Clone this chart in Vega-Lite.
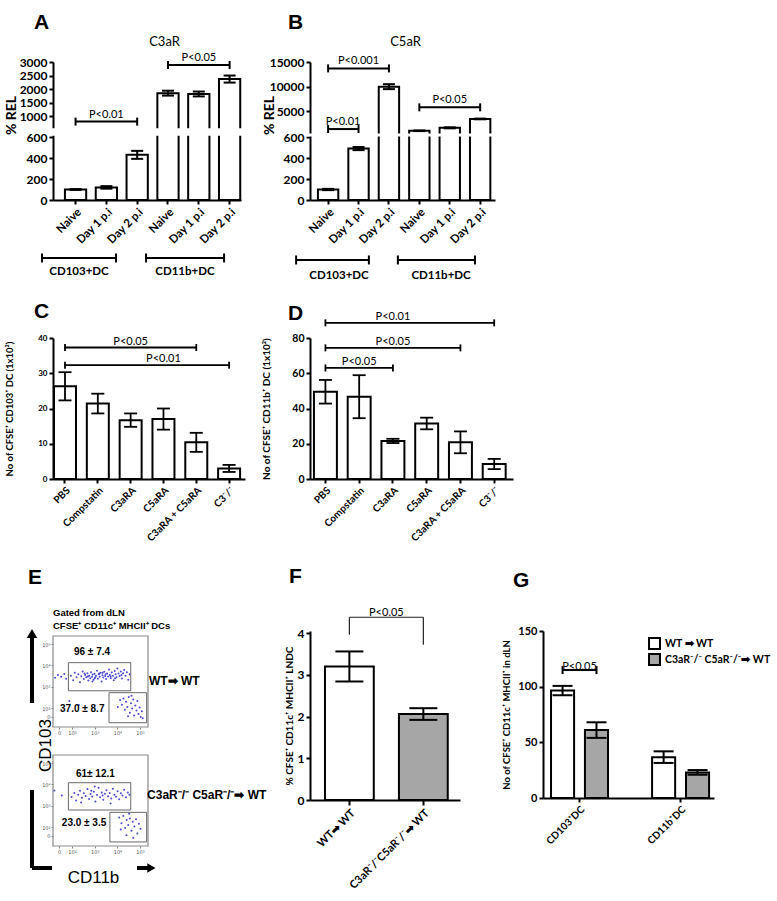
{
"$schema":"https://vega.github.io/schema/vega-lite/v6.json",
"background":"white",
"padding":{"left":3,"top":12,"right":2,"bottom":2},
"config":{
 "font":"Lato",
 "view":{"stroke":null},
 "axis":{"grid":false,"domainColor":"black","domainWidth":2,"tickColor":"black","tickWidth":2,"tickSize":4,"labelColor":"black","labelFont":"Lato","labelFontWeight":"bold","titleColor":"black","titleFont":"Lato","titleFontWeight":"bold"},
 "title":{"font":"Liberation Sans","fontSize":21,"fontWeight":"bold","anchor":"start","frame":"group","color":"black","baseline":"alphabetic"},
 "tick":{"opacity":1},
 "legend":{"labelColor":"black"}
},
"resolve":{"scale":{"fill":"independent"},"legend":{"fill":"independent"}},
"datasets":{
 "relA":[{"id":"Naive|1","v":100,"lo":96,"hi":104},{"id":"Day 1 p.i|1","v":120,"lo":108,"hi":132},{"id":"Day 2 p.i|1","v":430,"lo":392,"hi":468},{"id":"Naive|2","v":1850,"lo":1760,"hi":1940},{"id":"Day 1 p.i|2","v":1820,"lo":1730,"hi":1910},{"id":"Day 2 p.i|2","v":2370,"lo":2240,"hi":2500}],
 "sigA":[{"x1":"Naive|1","x2":"Day 2 p.i|1","tx":"Day 1 p.i|1","y":800,"p":"P<0.01"},{"x1":"Naive|2","x2":"Day 2 p.i|2","tx":"Day 1 p.i|2","y":2890,"p":"P<0.05"}],
 "grpA":[{"g":"CD103+DC","s":-0.35,"e":2.01,"m":0.83,"y":-552},{"g":"CD11b+DC","s":2.97,"e":5.46,"m":4.21,"y":-552}],
 "brk":[{"x1":-0.12,"x2":6.1,"lo":600.12,"hi":600.88}],
 "relB":[{"id":"Naive|1","v":100,"lo":94,"hi":106},{"id":"Day 1 p.i|1","v":490,"lo":475,"hi":505},{"id":"Day 2 p.i|1","v":10000,"lo":9500,"hi":10500},{"id":"Naive|2","v":1050,"lo":990,"hi":1110},{"id":"Day 1 p.i|2","v":1650,"lo":1550,"hi":1750},{"id":"Day 2 p.i|2","v":3450,"lo":3380,"hi":3520}],
 "sigB":[{"x1":"Naive|1","x2":"Day 2 p.i|1","tx":"Day 1 p.i|1","y":13700,"p":"P<0.001"},{"x1":"Naive|2","x2":"Day 2 p.i|2","tx":"Day 1 p.i|2","y":5800,"p":"P<0.05"}],
 "sigB2":[{"x1":"Naive|1","x2":"Day 1 p.i|1","tx":"Naive|1","y":1400,"p":"P<0.01"}],
 "grpB":[{"g":"CD103+DC","s":-0.45,"e":1.91,"m":0.94,"y":-571},{"g":"CD11b+DC","s":2.85,"e":5.35,"m":4.25,"y":-571}],
 "relC":[{"id":"PBS","v":26.3,"lo":22.3,"hi":30.3},{"id":"Compstatin","v":21.4,"lo":18.6,"hi":24.2},{"id":"C3aRA","v":16.7,"lo":14.8,"hi":18.6},{"id":"C5aRA","v":17,"lo":14,"hi":20},{"id":"C3aRA + C5aRA","v":10.4,"lo":7.7,"hi":13.1},{"id":"C3⁻/⁻","v":3,"lo":2,"hi":4}],
 "sigC":[{"x1":"PBS","x2":"C3aRA + C5aRA","tx":"C3aRA","y":37.3,"p":"P<0.05"},{"x1":"PBS","x2":"C3⁻/⁻","tx":"C5aRA","y":32.3,"p":"P<0.01"}],
 "relD":[{"id":"PBS","v":49.5,"lo":42.8,"hi":56.2},{"id":"Compstatin","v":46.7,"lo":34.5,"hi":58.9},{"id":"C3aRA","v":21.6,"lo":20.4,"hi":22.8},{"id":"C5aRA","v":31.5,"lo":28.2,"hi":34.8},{"id":"C3aRA + C5aRA","v":20.8,"lo":14.6,"hi":27},{"id":"C3⁻/⁻","v":8.5,"lo":5.6,"hi":11.4}],
 "sigD":[{"x1":"PBS","x2":"C3⁻/⁻","tx":"C3aRA","y":88.6,"p":"P<0.01"},{"x1":"PBS","x2":"C3aRA + C5aRA","tx":"C3aRA","y":74.4,"p":"P<0.05"},{"x1":"PBS","x2":"C3aRA","tx":"Compstatin","y":63,"p":"P<0.05"}],
 "relF":[{"id":"WT","v":3.2,"lo":2.84,"hi":3.56},{"id":"KO","v":2.06,"lo":1.92,"hi":2.2}],
 "legF":[{"id":"WT","top":4.38,"bot":3.96},{"id":"KO","top":4.38,"bot":3.72}],
 "sigF":[{"x1":"WT","x2":"KO","y":4.38,"p":"P<0.05"}],
 "relG":[{"grp":"CD103⁺DC","geno":"WT","v":96.5,"lo":92.3,"hi":100.7},{"grp":"CD103⁺DC","geno":"KO","v":61,"lo":54,"hi":68},{"grp":"CD11b⁺DC","geno":"WT","v":36.7,"lo":31.5,"hi":41.9},{"grp":"CD11b⁺DC","geno":"KO","v":23,"lo":20.9,"hi":25.1}],
 "sigG":[{"grp":"CD103⁺DC","y":114.9,"p":"P<0.05"}],
 "capG":[{"grp":"CD103⁺DC","geno":"WT","y":114.9},{"grp":"CD103⁺DC","geno":"KO","y":114.9}],
 "frameE":[{"x1":1.16,"x2":5.35,"y1":1.11,"y2":5.38}],
 "gates":[{"p":"t","x1":1.84,"x2":4.59,"y1":2.81,"y2":4.13},{"p":"t","x1":3.63,"x2":5.29,"y1":1.31,"y2":2.72},{"p":"b","x1":1.84,"x2":4.59,"y1":2.8,"y2":4.08},{"p":"b","x1":3.67,"x2":5.29,"y1":1.3,"y2":2.69}],
 "gtext":[{"p":"t","x":2.88,"y":4.64,"t":"96 ± 7.4"},{"p":"t","x":2.45,"y":1.94,"t":"37.0 ± 8.7"},{"p":"b","x":3.03,"y":4.49,"t":"61± 12.1"},{"p":"b","x":2.53,"y":2.17,"t":"23.0 ± 3.5"}],
 "stext":[{"p":"t","x":5.39,"y":3.26,"t":"WT➡  WT"},{"p":"b","x":5.31,"y":3.5,"t":"C3aR⁻/⁻ C5aR⁻/⁻➡ WT"}],
 "htext":[{"x":1.16,"y":6.45,"t":"Gated from dLN"},{"x":1.16,"y":5.86,"t":"CFSE⁺ CD11c⁺ MHCII⁺ DCs"}],
 "arrE":[{"p":"t","x1":0.234,"x2":0.234,"y1":2.236,"y2":5.3},{"p":"b","x1":0.234,"x2":0.234,"y1":3.74,"y2":0.078},{"p":"b","x1":0.234,"x2":1.116,"y1":0.078,"y2":0.078},{"p":"b","x1":4.865,"x2":5.35,"y1":0.078,"y2":0.078}],
 "headUp":[{"x":0.234,"y":5.5}],
 "headRight":[{"x":5.5,"y":0.078}],
 "facs":[
{"p":"t","x":1.25,"y":3.42},{"p":"t","x":1.38,"y":3.55},{"p":"t","x":1.52,"y":3.47},{"p":"t","x":1.66,"y":3.6},{"p":"t","x":1.74,"y":3.38},{"p":"t","x":1.95,"y":3.52},{"p":"t","x":2.05,"y":3.3},{"p":"t","x":2.12,"y":3.66},{"p":"t","x":2.2,"y":3.44},{"p":"t","x":2.28,"y":3.58},{"p":"t","x":2.35,"y":3.21},{"p":"t","x":2.41,"y":3.49},{"p":"t","x":2.47,"y":3.72},{"p":"t","x":2.52,"y":3.36},{"p":"t","x":2.58,"y":3.55},{"p":"t","x":2.63,"y":3.44},{"p":"t","x":2.68,"y":3.63},{"p":"t","x":2.72,"y":3.29},{"p":"t","x":2.76,"y":3.51},{"p":"t","x":2.8,"y":3.4},{"p":"t","x":2.84,"y":3.68},{"p":"t","x":2.88,"y":3.47},{"p":"t","x":2.91,"y":3.57},{"p":"t","x":2.95,"y":3.33},{"p":"t","x":2.99,"y":3.61},{"p":"t","x":3.03,"y":3.45},{"p":"t","x":3.06,"y":3.52},{"p":"t","x":3.1,"y":3.75},{"p":"t","x":3.14,"y":3.38},{"p":"t","x":3.18,"y":3.58},{"p":"t","x":3.22,"y":3.47},{"p":"t","x":3.26,"y":3.66},{"p":"t","x":3.3,"y":3.24},{"p":"t","x":3.34,"y":3.54},{"p":"t","x":3.38,"y":3.43},{"p":"t","x":3.42,"y":3.7},{"p":"t","x":3.46,"y":3.5},{"p":"t","x":3.5,"y":3.36},{"p":"t","x":3.55,"y":3.62},{"p":"t","x":3.59,"y":3.48},{"p":"t","x":3.63,"y":3.81},{"p":"t","x":3.67,"y":3.55},{"p":"t","x":3.71,"y":3.4},{"p":"t","x":3.75,"y":3.67},{"p":"t","x":3.8,"y":3.52},{"p":"t","x":3.84,"y":3.3},{"p":"t","x":3.88,"y":3.74},{"p":"t","x":3.92,"y":3.58},{"p":"t","x":3.96,"y":3.45},{"p":"t","x":4.0,"y":3.86},{"p":"t","x":4.05,"y":3.62},{"p":"t","x":4.1,"y":3.5},{"p":"t","x":4.15,"y":3.71},{"p":"t","x":4.2,"y":3.39},{"p":"t","x":4.25,"y":3.63},{"p":"t","x":4.3,"y":3.78},{"p":"t","x":4.36,"y":3.52},{"p":"t","x":4.42,"y":3.68},{"p":"t","x":4.48,"y":3.33},{"p":"t","x":4.54,"y":3.58},{"p":"t","x":2.55,"y":3.62},{"p":"t","x":2.9,"y":3.25},{"p":"t","x":3.2,"y":3.62},{"p":"t","x":3.48,"y":3.58},{"p":"t","x":3.7,"y":3.48},{"p":"t","x":2.7,"y":3.48},{"p":"t","x":3.0,"y":3.4},{"p":"t","x":3.35,"y":3.65},{"p":"t","x":4.18,"y":3.55},{"p":"t","x":3.9,"y":3.4},
{"p":"t","x":4.12,"y":2.38},{"p":"t","x":4.2,"y":2.15},{"p":"t","x":4.27,"y":2.45},{"p":"t","x":4.33,"y":1.92},{"p":"t","x":4.38,"y":2.3},{"p":"t","x":4.44,"y":2.05},{"p":"t","x":4.5,"y":2.52},{"p":"t","x":4.55,"y":1.78},{"p":"t","x":4.6,"y":2.22},{"p":"t","x":4.65,"y":1.98},{"p":"t","x":4.7,"y":2.4},{"p":"t","x":4.74,"y":1.65},{"p":"t","x":4.79,"y":2.12},{"p":"t","x":4.84,"y":1.88},{"p":"t","x":4.88,"y":2.33},{"p":"t","x":4.93,"y":1.72},{"p":"t","x":4.98,"y":2.02},{"p":"t","x":5.03,"y":1.58},{"p":"t","x":5.08,"y":1.85},{"p":"t","x":5.12,"y":1.52},{"p":"t","x":4.47,"y":1.62},{"p":"t","x":4.02,"y":2.05},{"p":"t","x":4.62,"y":2.58},{"p":"t","x":2.3,"y":2.14},{"p":"t","x":1.88,"y":2.33},
{"p":"b","x":1.22,"y":3.72},{"p":"b","x":1.55,"y":3.48},{"p":"b","x":1.98,"y":3.41},{"p":"b","x":2.1,"y":3.6},{"p":"b","x":2.18,"y":3.25},{"p":"b","x":2.27,"y":3.52},{"p":"b","x":2.35,"y":3.7},{"p":"b","x":2.44,"y":3.38},{"p":"b","x":2.52,"y":3.58},{"p":"b","x":2.6,"y":3.46},{"p":"b","x":2.68,"y":3.78},{"p":"b","x":2.75,"y":3.31},{"p":"b","x":2.82,"y":3.55},{"p":"b","x":2.89,"y":3.43},{"p":"b","x":2.96,"y":3.66},{"p":"b","x":3.03,"y":3.2},{"p":"b","x":3.1,"y":3.5},{"p":"b","x":3.17,"y":3.84},{"p":"b","x":3.24,"y":3.4},{"p":"b","x":3.31,"y":3.62},{"p":"b","x":3.38,"y":3.28},{"p":"b","x":3.45,"y":3.56},{"p":"b","x":3.52,"y":3.73},{"p":"b","x":3.59,"y":3.45},{"p":"b","x":3.66,"y":3.6},{"p":"b","x":3.73,"y":3.34},{"p":"b","x":3.8,"y":3.8},{"p":"b","x":3.87,"y":3.52},{"p":"b","x":3.94,"y":3.42},{"p":"b","x":4.01,"y":3.68},{"p":"b","x":4.08,"y":3.3},{"p":"b","x":4.15,"y":3.58},{"p":"b","x":4.22,"y":3.48},{"p":"b","x":4.3,"y":3.75},{"p":"b","x":4.38,"y":3.4},{"p":"b","x":4.46,"y":3.62},{"p":"b","x":4.53,"y":3.52},{"p":"b","x":2.4,"y":3.15},{"p":"b","x":3.0,"y":3.9},{"p":"b","x":3.7,"y":3.1},{"p":"b","x":2.85,"y":3.7},{"p":"b","x":3.35,"y":3.48},
{"p":"b","x":4.08,"y":2.45},{"p":"b","x":4.18,"y":2.18},{"p":"b","x":4.26,"y":2.52},{"p":"b","x":4.34,"y":1.95},{"p":"b","x":4.41,"y":2.33},{"p":"b","x":4.48,"y":2.1},{"p":"b","x":4.55,"y":2.4},{"p":"b","x":4.62,"y":1.82},{"p":"b","x":4.68,"y":2.25},{"p":"b","x":4.75,"y":2.02},{"p":"b","x":4.82,"y":2.36},{"p":"b","x":4.88,"y":1.7},{"p":"b","x":4.95,"y":2.15},{"p":"b","x":5.02,"y":1.92},{"p":"b","x":4.4,"y":1.62},{"p":"b","x":4.7,"y":1.5},{"p":"b","x":4.52,"y":2.62},{"p":"b","x":4.15,"y":1.88}
 ]
},
"columns":3,
"align":{"row":"none","column":"each"},
"bounds":"flush",
"spacing":{"row":28,"column":30},
"concat":[
{
 "width":188,"height":138,
 "title":{"text":"A","dx":-19,"offset":2},
 "resolve":{"scale":{"x":"independent"},"axis":{"x":"independent"}},
 "layer":[
  {"layer":[
   {"data":{"name":"relA"},"mark":{"type":"bar","fill":"white","stroke":"black","strokeWidth":2},
    "encoding":{
     "x":{"field":"id","type":"nominal","scale":{"domain":["Naive|1","Day 1 p.i|1","Day 2 p.i|1","Naive|2","Day 1 p.i|2","Day 2 p.i|2"],"paddingInner":0.31,"paddingOuter":0.206,"align":0.94},"axis":{"title":null,"labelAngle":-45,"labelExpr":"split(datum.value,'|')[0]","labelFontSize":11.5,"labelPadding":2}},
     "y":{"field":"v","type":"quantitative","scale":{"domain":[0,600,601,3000],"range":[138,75,65,0],"nice":false,"zero":false},"axis":{"values":[0,200,400,600,1000,1500,2000,2500,3000],"tickCount":20,"format":"d","labelOverlap":false,"title":"% REL","titleFontSize":14,"titleX":-42,"titleY":53,"titleBaseline":"middle","labelFontSize":12}}}},
   {"data":{"name":"relA"},"mark":{"type":"rule","strokeWidth":2,"color":"black"},
    "encoding":{"x":{"field":"id","type":"nominal","scale":{"domain":["Naive|1","Day 1 p.i|1","Day 2 p.i|1","Naive|2","Day 1 p.i|2","Day 2 p.i|2"]}},"y":{"field":"lo","type":"quantitative","scale":{"domain":[0,600,601,3000],"range":[138,75,65,0],"nice":false,"zero":false}},"y2":{"field":"hi"}}},
   {"data":{"name":"relA"},"mark":{"type":"tick","thickness":2,"size":12,"color":"black"},
    "encoding":{"x":{"field":"id","type":"nominal","scale":{"domain":["Naive|1","Day 1 p.i|1","Day 2 p.i|1","Naive|2","Day 1 p.i|2","Day 2 p.i|2"]}},"y":{"field":"lo","type":"quantitative","scale":{"domain":[0,600,601,3000],"range":[138,75,65,0],"nice":false,"zero":false}}}},
   {"data":{"name":"relA"},"mark":{"type":"tick","thickness":2,"size":12,"color":"black"},
    "encoding":{"x":{"field":"id","type":"nominal","scale":{"domain":["Naive|1","Day 1 p.i|1","Day 2 p.i|1","Naive|2","Day 1 p.i|2","Day 2 p.i|2"]}},"y":{"field":"hi","type":"quantitative","scale":{"domain":[0,600,601,3000],"range":[138,75,65,0],"nice":false,"zero":false}}}},
   {"data":{"name":"sigA"},"mark":{"type":"rule","strokeWidth":2,"color":"black"},
    "encoding":{"x":{"field":"x1","type":"nominal","scale":{"domain":["Naive|1","Day 1 p.i|1","Day 2 p.i|1","Naive|2","Day 1 p.i|2","Day 2 p.i|2"]}},"x2":{"field":"x2"},"y":{"field":"y","type":"quantitative","scale":{"domain":[0,600,601,3000],"range":[138,75,65,0],"nice":false,"zero":false}}}},
   {"data":{"name":"sigA"},"mark":{"type":"tick","orient":"vertical","thickness":2,"size":8,"color":"black"},
    "encoding":{"x":{"field":"x1","type":"nominal","scale":{"domain":["Naive|1","Day 1 p.i|1","Day 2 p.i|1","Naive|2","Day 1 p.i|2","Day 2 p.i|2"]}},"y":{"field":"y","type":"quantitative","scale":{"domain":[0,600,601,3000],"range":[138,75,65,0],"nice":false,"zero":false}}}},
   {"data":{"name":"sigA"},"mark":{"type":"tick","orient":"vertical","thickness":2,"size":8,"color":"black"},
    "encoding":{"x":{"field":"x2","type":"nominal","scale":{"domain":["Naive|1","Day 1 p.i|1","Day 2 p.i|1","Naive|2","Day 1 p.i|2","Day 2 p.i|2"]}},"y":{"field":"y","type":"quantitative","scale":{"domain":[0,600,601,3000],"range":[138,75,65,0],"nice":false,"zero":false}}}},
   {"data":{"name":"sigA"},"mark":{"type":"text","fontSize":11,"baseline":"bottom","dy":-2},
    "encoding":{"x":{"field":"tx","type":"nominal","scale":{"domain":["Naive|1","Day 1 p.i|1","Day 2 p.i|1","Naive|2","Day 1 p.i|2","Day 2 p.i|2"]}},"y":{"field":"y","type":"quantitative","scale":{"domain":[0,600,601,3000],"range":[138,75,65,0],"nice":false,"zero":false}},"text":{"field":"p"}}}
  ]},
  {"layer":[
   {"data":{"name":"brk"},"mark":{"type":"rect","color":"white"},
    "encoding":{"x":{"field":"x1","type":"quantitative","scale":{"domain":[0,6],"nice":false,"zero":false},"axis":{"orient":"top","title":"C3aR","domain":false,"ticks":false,"labels":false,"titleFontSize":13,"titleFontWeight":"normal","titleX":111,"titleY":-21,"titleBaseline":"middle"}},"x2":{"field":"x2"},"y":{"field":"lo","type":"quantitative","scale":{"domain":[0,600,601,3000],"range":[138,75,65,0],"nice":false,"zero":false},"axis":{"values":[0,200,400,600,1000,1500,2000,2500,3000],"tickCount":20,"format":"d","labelOverlap":false,"title":"% REL","titleFontSize":14,"titleX":-42,"titleY":53,"titleBaseline":"middle","labelFontSize":12}},"y2":{"field":"hi"}}},
   {"data":{"name":"grpA"},"mark":{"type":"rule","strokeWidth":2,"color":"black"},
    "encoding":{"x":{"field":"s","type":"quantitative","scale":{"domain":[0,6],"nice":false,"zero":false}},"x2":{"field":"e"},"y":{"field":"y","type":"quantitative","scale":{"domain":[0,600,601,3000],"range":[138,75,65,0],"nice":false,"zero":false}}}},
   {"data":{"name":"grpA"},"mark":{"type":"tick","orient":"vertical","thickness":2,"size":9,"color":"black"},
    "encoding":{"x":{"field":"s","type":"quantitative","scale":{"domain":[0,6],"nice":false,"zero":false}},"y":{"field":"y","type":"quantitative","scale":{"domain":[0,600,601,3000],"range":[138,75,65,0],"nice":false,"zero":false}}}},
   {"data":{"name":"grpA"},"mark":{"type":"tick","orient":"vertical","thickness":2,"size":9,"color":"black"},
    "encoding":{"x":{"field":"e","type":"quantitative","scale":{"domain":[0,6],"nice":false,"zero":false}},"y":{"field":"y","type":"quantitative","scale":{"domain":[0,600,601,3000],"range":[138,75,65,0],"nice":false,"zero":false}}}},
   {"data":{"name":"grpA"},"mark":{"type":"text","fontSize":11.5,"fontWeight":"bold","baseline":"middle","dy":14},
    "encoding":{"x":{"field":"m","type":"quantitative","scale":{"domain":[0,6],"nice":false,"zero":false}},"y":{"field":"y","type":"quantitative","scale":{"domain":[0,600,601,3000],"range":[138,75,65,0],"nice":false,"zero":false}},"text":{"field":"g"}}}
  ]}
 ]
},
{
 "width":185,"height":138,
 "title":{"text":"B","dx":-22,"offset":2},
 "resolve":{"scale":{"x":"independent"},"axis":{"x":"independent"}},
 "layer":[
  {"layer":[
   {"data":{"name":"relB"},"mark":{"type":"bar","fill":"white","stroke":"black","strokeWidth":2},
    "encoding":{
     "x":{"field":"id","type":"nominal","scale":{"domain":["Naive|1","Day 1 p.i|1","Day 2 p.i|1","Naive|2","Day 1 p.i|2","Day 2 p.i|2"],"paddingInner":0.33,"paddingOuter":0.207,"align":0.63},"axis":{"title":null,"labelAngle":-45,"labelExpr":"split(datum.value,'|')[0]","labelFontSize":11.5,"labelPadding":2}},
     "y":{"field":"v","type":"quantitative","scale":{"domain":[0,600,601,15000],"range":[138,75,71,0],"nice":false,"zero":false},"axis":{"values":[0,200,400,600,5000,10000,15000],"tickCount":20,"format":"d","labelOverlap":false,"title":"% REL","titleFontSize":14,"titleX":-41,"titleY":53,"titleBaseline":"middle","labelFontSize":12}}}},
   {"data":{"name":"relB"},"mark":{"type":"rule","strokeWidth":2,"color":"black"},
    "encoding":{"x":{"field":"id","type":"nominal","scale":{"domain":["Naive|1","Day 1 p.i|1","Day 2 p.i|1","Naive|2","Day 1 p.i|2","Day 2 p.i|2"]}},"y":{"field":"lo","type":"quantitative","scale":{"domain":[0,600,601,15000],"range":[138,75,71,0],"nice":false,"zero":false}},"y2":{"field":"hi"}}},
   {"data":{"name":"relB"},"mark":{"type":"tick","thickness":2,"size":12,"color":"black"},
    "encoding":{"x":{"field":"id","type":"nominal","scale":{"domain":["Naive|1","Day 1 p.i|1","Day 2 p.i|1","Naive|2","Day 1 p.i|2","Day 2 p.i|2"]}},"y":{"field":"lo","type":"quantitative","scale":{"domain":[0,600,601,15000],"range":[138,75,71,0],"nice":false,"zero":false}}}},
   {"data":{"name":"relB"},"mark":{"type":"tick","thickness":2,"size":12,"color":"black"},
    "encoding":{"x":{"field":"id","type":"nominal","scale":{"domain":["Naive|1","Day 1 p.i|1","Day 2 p.i|1","Naive|2","Day 1 p.i|2","Day 2 p.i|2"]}},"y":{"field":"hi","type":"quantitative","scale":{"domain":[0,600,601,15000],"range":[138,75,71,0],"nice":false,"zero":false}}}},
   {"data":{"name":"sigB"},"mark":{"type":"rule","strokeWidth":2,"color":"black"},
    "encoding":{"x":{"field":"x1","type":"nominal","scale":{"domain":["Naive|1","Day 1 p.i|1","Day 2 p.i|1","Naive|2","Day 1 p.i|2","Day 2 p.i|2"]}},"x2":{"field":"x2"},"y":{"field":"y","type":"quantitative","scale":{"domain":[0,600,601,15000],"range":[138,75,71,0],"nice":false,"zero":false}}}},
   {"data":{"name":"sigB"},"mark":{"type":"tick","orient":"vertical","thickness":2,"size":8,"color":"black"},
    "encoding":{"x":{"field":"x1","type":"nominal","scale":{"domain":["Naive|1","Day 1 p.i|1","Day 2 p.i|1","Naive|2","Day 1 p.i|2","Day 2 p.i|2"]}},"y":{"field":"y","type":"quantitative","scale":{"domain":[0,600,601,15000],"range":[138,75,71,0],"nice":false,"zero":false}}}},
   {"data":{"name":"sigB"},"mark":{"type":"tick","orient":"vertical","thickness":2,"size":8,"color":"black"},
    "encoding":{"x":{"field":"x2","type":"nominal","scale":{"domain":["Naive|1","Day 1 p.i|1","Day 2 p.i|1","Naive|2","Day 1 p.i|2","Day 2 p.i|2"]}},"y":{"field":"y","type":"quantitative","scale":{"domain":[0,600,601,15000],"range":[138,75,71,0],"nice":false,"zero":false}}}},
   {"data":{"name":"sigB"},"mark":{"type":"text","fontSize":11,"baseline":"bottom","dy":-2},
    "encoding":{"x":{"field":"tx","type":"nominal","scale":{"domain":["Naive|1","Day 1 p.i|1","Day 2 p.i|1","Naive|2","Day 1 p.i|2","Day 2 p.i|2"]}},"y":{"field":"y","type":"quantitative","scale":{"domain":[0,600,601,15000],"range":[138,75,71,0],"nice":false,"zero":false}},"text":{"field":"p"}}},
   {"data":{"name":"sigB2"},"mark":{"type":"rule","strokeWidth":2,"color":"black"},
    "encoding":{"x":{"field":"x1","type":"nominal","scale":{"domain":["Naive|1","Day 1 p.i|1","Day 2 p.i|1","Naive|2","Day 1 p.i|2","Day 2 p.i|2"]}},"x2":{"field":"x2"},"y":{"field":"y","type":"quantitative","scale":{"domain":[0,600,601,15000],"range":[138,75,71,0],"nice":false,"zero":false}}}},
   {"data":{"name":"sigB2"},"mark":{"type":"tick","orient":"vertical","thickness":2,"size":8,"color":"black"},
    "encoding":{"x":{"field":"x1","type":"nominal","scale":{"domain":["Naive|1","Day 1 p.i|1","Day 2 p.i|1","Naive|2","Day 1 p.i|2","Day 2 p.i|2"]}},"y":{"field":"y","type":"quantitative","scale":{"domain":[0,600,601,15000],"range":[138,75,71,0],"nice":false,"zero":false}}}},
   {"data":{"name":"sigB2"},"mark":{"type":"tick","orient":"vertical","thickness":2,"size":8,"color":"black"},
    "encoding":{"x":{"field":"x2","type":"nominal","scale":{"domain":["Naive|1","Day 1 p.i|1","Day 2 p.i|1","Naive|2","Day 1 p.i|2","Day 2 p.i|2"]}},"y":{"field":"y","type":"quantitative","scale":{"domain":[0,600,601,15000],"range":[138,75,71,0],"nice":false,"zero":false}}}},
   {"data":{"name":"sigB2"},"mark":{"type":"text","fontSize":11,"baseline":"bottom","dy":-2,"dx":15},
    "encoding":{"x":{"field":"tx","type":"nominal","scale":{"domain":["Naive|1","Day 1 p.i|1","Day 2 p.i|1","Naive|2","Day 1 p.i|2","Day 2 p.i|2"]}},"y":{"field":"y","type":"quantitative","scale":{"domain":[0,600,601,15000],"range":[138,75,71,0],"nice":false,"zero":false}},"text":{"field":"p"}}}
  ]},
  {"layer":[
   {"data":{"name":"brk"},"mark":{"type":"rect","color":"white"},
    "encoding":{"x":{"field":"x1","type":"quantitative","scale":{"domain":[0,6],"nice":false,"zero":false},"axis":{"orient":"top","title":"C5aR","domain":false,"ticks":false,"labels":false,"titleFontSize":13,"titleFontWeight":"normal","titleX":95,"titleY":-21,"titleBaseline":"middle"}},"x2":{"field":"x2"},"y":{"field":"lo","type":"quantitative","scale":{"domain":[0,600,601,15000],"range":[138,75,71,0],"nice":false,"zero":false},"axis":{"values":[0,200,400,600,5000,10000,15000],"tickCount":20,"format":"d","labelOverlap":false,"title":"% REL","titleFontSize":14,"titleX":-41,"titleY":53,"titleBaseline":"middle","labelFontSize":12}},"y2":{"field":"hi"}}},
   {"data":{"name":"grpB"},"mark":{"type":"rule","strokeWidth":2,"color":"black"},
    "encoding":{"x":{"field":"s","type":"quantitative","scale":{"domain":[0,6],"nice":false,"zero":false}},"x2":{"field":"e"},"y":{"field":"y","type":"quantitative","scale":{"domain":[0,600,601,15000],"range":[138,75,71,0],"nice":false,"zero":false}}}},
   {"data":{"name":"grpB"},"mark":{"type":"tick","orient":"vertical","thickness":2,"size":9,"color":"black"},
    "encoding":{"x":{"field":"s","type":"quantitative","scale":{"domain":[0,6],"nice":false,"zero":false}},"y":{"field":"y","type":"quantitative","scale":{"domain":[0,600,601,15000],"range":[138,75,71,0],"nice":false,"zero":false}}}},
   {"data":{"name":"grpB"},"mark":{"type":"tick","orient":"vertical","thickness":2,"size":9,"color":"black"},
    "encoding":{"x":{"field":"e","type":"quantitative","scale":{"domain":[0,6],"nice":false,"zero":false}},"y":{"field":"y","type":"quantitative","scale":{"domain":[0,600,601,15000],"range":[138,75,71,0],"nice":false,"zero":false}}}},
   {"data":{"name":"grpB"},"mark":{"type":"text","fontSize":11.5,"fontWeight":"bold","baseline":"middle","dy":16},
    "encoding":{"x":{"field":"m","type":"quantitative","scale":{"domain":[0,6],"nice":false,"zero":false}},"y":{"field":"y","type":"quantitative","scale":{"domain":[0,600,601,15000],"range":[138,75,71,0],"nice":false,"zero":false}},"text":{"field":"g"}}}
  ]}
 ]
},
{"width":1,"height":138,"data":{"values":[]},"mark":"point"},
{"width":1,"height":82,"data":{"values":[]},"mark":"point"},
{"width":1,"height":82,"data":{"values":[]},"mark":"point"},
{"width":1,"height":82,"data":{"values":[]},"mark":"point"},
{
 "width":192,"height":141,
 "title":{"text":"C","dx":-19,"offset":12},
 "layer":[
  {"data":{"name":"relC"},"mark":{"type":"bar","fill":"white","stroke":"black","strokeWidth":2},
   "encoding":{
    "x":{"field":"id","type":"nominal","scale":{"domain":["PBS","Compstatin","C3aRA","C5aRA","C3aRA + C5aRA","C3⁻/⁻"],"paddingInner":0.33,"paddingOuter":0.09,"align":0.17},"axis":{"title":null,"labelAngle":-45,"labelFontSize":10}},
    "y":{"field":"v","type":"quantitative","scale":{"domain":[0,40],"nice":false},"axis":{"values":[0,10,20,30,40],"tickCount":20,"format":"d","title":"No of CFSE⁺ CD103⁺ DC (1x10²)","titleFontSize":9.5,"titleX":-44,"titleBaseline":"middle","labelFontSize":8}}}},
  {"data":{"name":"relC"},"mark":{"type":"rule","strokeWidth":1.8,"color":"black"},
   "encoding":{"x":{"field":"id","type":"nominal","scale":{"domain":["PBS","Compstatin","C3aRA","C5aRA","C3aRA + C5aRA","C3⁻/⁻"]}},"y":{"field":"lo","type":"quantitative","scale":{"domain":[0,40],"nice":false}},"y2":{"field":"hi"}}},
  {"data":{"name":"relC"},"mark":{"type":"tick","thickness":1.8,"size":13,"color":"black"},
   "encoding":{"x":{"field":"id","type":"nominal","scale":{"domain":["PBS","Compstatin","C3aRA","C5aRA","C3aRA + C5aRA","C3⁻/⁻"]}},"y":{"field":"lo","type":"quantitative","scale":{"domain":[0,40],"nice":false}}}},
  {"data":{"name":"relC"},"mark":{"type":"tick","thickness":1.8,"size":13,"color":"black"},
   "encoding":{"x":{"field":"id","type":"nominal","scale":{"domain":["PBS","Compstatin","C3aRA","C5aRA","C3aRA + C5aRA","C3⁻/⁻"]}},"y":{"field":"hi","type":"quantitative","scale":{"domain":[0,40],"nice":false}}}},
  {"data":{"name":"sigC"},"mark":{"type":"rule","strokeWidth":1.8,"color":"black"},
   "encoding":{"x":{"field":"x1","type":"nominal","scale":{"domain":["PBS","Compstatin","C3aRA","C5aRA","C3aRA + C5aRA","C3⁻/⁻"]}},"x2":{"field":"x2"},"y":{"field":"y","type":"quantitative","scale":{"domain":[0,40],"nice":false}}}},
  {"data":{"name":"sigC"},"mark":{"type":"tick","orient":"vertical","thickness":1.8,"size":7,"color":"black"},
   "encoding":{"x":{"field":"x1","type":"nominal","scale":{"domain":["PBS","Compstatin","C3aRA","C5aRA","C3aRA + C5aRA","C3⁻/⁻"]}},"y":{"field":"y","type":"quantitative","scale":{"domain":[0,40],"nice":false}}}},
  {"data":{"name":"sigC"},"mark":{"type":"tick","orient":"vertical","thickness":1.8,"size":7,"color":"black"},
   "encoding":{"x":{"field":"x2","type":"nominal","scale":{"domain":["PBS","Compstatin","C3aRA","C5aRA","C3aRA + C5aRA","C3⁻/⁻"]}},"y":{"field":"y","type":"quantitative","scale":{"domain":[0,40],"nice":false}}}},
  {"data":{"name":"sigC"},"mark":{"type":"text","fontSize":11,"baseline":"bottom","dy":-1},
   "encoding":{"x":{"field":"tx","type":"nominal","scale":{"domain":["PBS","Compstatin","C3aRA","C5aRA","C3aRA + C5aRA","C3⁻/⁻"]}},"y":{"field":"y","type":"quantitative","scale":{"domain":[0,40],"nice":false}},"text":{"field":"p"}}}
 ]
},
{
 "width":203,"height":141,
 "title":{"text":"D","dx":-22,"offset":-13},
 "layer":[
  {"data":{"name":"relD"},"mark":{"type":"bar","fill":"white","stroke":"black","strokeWidth":2},
   "encoding":{
    "x":{"field":"id","type":"nominal","scale":{"domain":["PBS","Compstatin","C3aRA","C5aRA","C3aRA + C5aRA","C3⁻/⁻"],"paddingInner":0.32,"paddingOuter":0.167,"align":0.35},"axis":{"title":null,"labelAngle":-45,"labelFontSize":10}},
    "y":{"field":"v","type":"quantitative","scale":{"domain":[0,80],"nice":false},"axis":{"values":[0,20,40,60,80],"tickCount":20,"format":"d","title":"No of CFSE⁺ CD11b⁺ DC (1x10²)","titleFontSize":10,"titleX":-44,"titleBaseline":"middle","labelFontSize":10.5}}}},
  {"data":{"name":"relD"},"mark":{"type":"rule","strokeWidth":1.8,"color":"black"},
   "encoding":{"x":{"field":"id","type":"nominal","scale":{"domain":["PBS","Compstatin","C3aRA","C5aRA","C3aRA + C5aRA","C3⁻/⁻"]}},"y":{"field":"lo","type":"quantitative","scale":{"domain":[0,80],"nice":false}},"y2":{"field":"hi"}}},
  {"data":{"name":"relD"},"mark":{"type":"tick","thickness":1.8,"size":13,"color":"black"},
   "encoding":{"x":{"field":"id","type":"nominal","scale":{"domain":["PBS","Compstatin","C3aRA","C5aRA","C3aRA + C5aRA","C3⁻/⁻"]}},"y":{"field":"lo","type":"quantitative","scale":{"domain":[0,80],"nice":false}}}},
  {"data":{"name":"relD"},"mark":{"type":"tick","thickness":1.8,"size":13,"color":"black"},
   "encoding":{"x":{"field":"id","type":"nominal","scale":{"domain":["PBS","Compstatin","C3aRA","C5aRA","C3aRA + C5aRA","C3⁻/⁻"]}},"y":{"field":"hi","type":"quantitative","scale":{"domain":[0,80],"nice":false}}}},
  {"data":{"name":"sigD"},"mark":{"type":"rule","strokeWidth":1.8,"color":"black"},
   "encoding":{"x":{"field":"x1","type":"nominal","scale":{"domain":["PBS","Compstatin","C3aRA","C5aRA","C3aRA + C5aRA","C3⁻/⁻"]}},"x2":{"field":"x2"},"y":{"field":"y","type":"quantitative","scale":{"domain":[0,80],"nice":false}}}},
  {"data":{"name":"sigD"},"mark":{"type":"tick","orient":"vertical","thickness":1.8,"size":7,"color":"black"},
   "encoding":{"x":{"field":"x1","type":"nominal","scale":{"domain":["PBS","Compstatin","C3aRA","C5aRA","C3aRA + C5aRA","C3⁻/⁻"]}},"y":{"field":"y","type":"quantitative","scale":{"domain":[0,80],"nice":false}}}},
  {"data":{"name":"sigD"},"mark":{"type":"tick","orient":"vertical","thickness":1.8,"size":7,"color":"black"},
   "encoding":{"x":{"field":"x2","type":"nominal","scale":{"domain":["PBS","Compstatin","C3aRA","C5aRA","C3aRA + C5aRA","C3⁻/⁻"]}},"y":{"field":"y","type":"quantitative","scale":{"domain":[0,80],"nice":false}}}},
  {"data":{"name":"sigD"},"mark":{"type":"text","fontSize":11,"baseline":"bottom","dy":-1},
   "encoding":{"x":{"field":"tx","type":"nominal","scale":{"domain":["PBS","Compstatin","C3aRA","C5aRA","C3aRA + C5aRA","C3⁻/⁻"]}},"y":{"field":"y","type":"quantitative","scale":{"domain":[0,80],"nice":false}},"text":{"field":"p"}}}
 ]
},
{"width":1,"height":141,"data":{"values":[]},"mark":"point"},
{"width":1,"height":96,"data":{"values":[]},"mark":"point"},
{"width":1,"height":96,"data":{"values":[]},"mark":"point"},
{"width":1,"height":96,"data":{"values":[]},"mark":"point"},
{
 "width":227,"height":215,
 "title":{"text":"E","dx":-25,"offset":20},
 "resolve":{"scale":{"x":"independent","y":"independent"},"axis":{"x":"independent","y":"independent"}},
 "layer":[
  {"layer":[
   {"data":{"name":"frameE"},"mark":{"type":"rect","fillOpacity":0,"stroke":"#8a8a8a","strokeWidth":1.2},
    "encoding":{
     "x":{"field":"x1","type":"quantitative","scale":{"domain":[1.16,11.173],"nice":false,"zero":false},"axis":{"orient":"bottom","offset":-119,"values":[1.43,2,3,4,5],"labelExpr":"datum.value < 1.5 ? '0' : datum.value == 2 ? '10²' : datum.value == 3 ? '10³' : datum.value == 4 ? '10⁴' : '10⁵'","labelOverlap":false,"domain":false,"tickSize":2,"tickWidth":0.8,"tickColor":"#666","labelFontSize":5,"labelColor":"#555","labelFontWeight":"normal","labelFont":"DejaVu Sans","labelPadding":1,"title":null}},
     "x2":{"field":"x2"},
     "y":{"field":"y1","type":"quantitative","scale":{"domain":[-4.474,5.615],"nice":false,"zero":false},"axis":{"orient":"left","values":[1.58,2,3,4,5],"labelExpr":"datum.value < 1.7 ? '0' : datum.value == 2 ? '10²' : datum.value == 3 ? '10³' : datum.value == 4 ? '10⁴' : '10⁵'","labelOverlap":false,"domain":false,"tickSize":2,"tickWidth":0.8,"tickColor":"#666","labelFontSize":5,"labelColor":"#555","labelFontWeight":"normal","labelFont":"DejaVu Sans","labelPadding":1,"title":"CD103","titleFont":"Liberation Sans","titleFontSize":17,"titleFontWeight":"normal","titleX":-8,"titleY":114,"titleBaseline":"middle"}},
     "y2":{"field":"y2"}}},
   {"data":{"name":"gates"},"transform":[{"filter":"datum.p == 't'"}],"mark":{"type":"rect","fillOpacity":0,"stroke":"#6a6a6a","strokeWidth":1},
    "encoding":{"x":{"field":"x1","type":"quantitative"},"x2":{"field":"x2"},"y":{"field":"y1","type":"quantitative"},"y2":{"field":"y2"}}},
   {"data":{"name":"facs"},"transform":[{"filter":"datum.p == 't'"}],"mark":{"type":"point","filled":true,"size":4,"color":"#3434d0","opacity":0.9},
    "encoding":{"x":{"field":"x","type":"quantitative"},"y":{"field":"y","type":"quantitative"}}},
   {"data":{"name":"gtext"},"transform":[{"filter":"datum.p == 't'"}],"mark":{"type":"text","font":"Liberation Sans","fontSize":10,"fontWeight":"bold"},
    "encoding":{"x":{"field":"x","type":"quantitative"},"y":{"field":"y","type":"quantitative"},"text":{"field":"t"}}},
   {"data":{"name":"stext"},"transform":[{"filter":"datum.p == 't'"}],"mark":{"type":"text","font":"Liberation Sans","fontSize":12,"fontWeight":"bold","align":"left"},
    "encoding":{"x":{"field":"x","type":"quantitative"},"y":{"field":"y","type":"quantitative"},"text":{"field":"t"}}},
   {"data":{"name":"htext"},"mark":{"type":"text","font":"Liberation Sans","fontSize":9.5,"fontWeight":"bold","align":"left"},
    "encoding":{"x":{"field":"x","type":"quantitative"},"y":{"field":"y","type":"quantitative"},"text":{"field":"t"}}},
   {"data":{"name":"arrE"},"transform":[{"filter":"datum.p == 't'"}],"mark":{"type":"rule","strokeWidth":4,"color":"black"},
    "encoding":{"x":{"field":"x1","type":"quantitative"},"x2":{"field":"x2"},"y":{"field":"y1","type":"quantitative"},"y2":{"field":"y2"}}},
   {"data":{"name":"headUp"},"mark":{"type":"point","shape":"triangle-up","filled":true,"size":110,"color":"black","opacity":1},
    "encoding":{"x":{"field":"x","type":"quantitative"},"y":{"field":"y","type":"quantitative"}}}
  ]},
  {"layer":[
   {"data":{"name":"frameE"},"mark":{"type":"rect","fillOpacity":0,"stroke":"#8a8a8a","strokeWidth":1.2},
    "encoding":{
     "x":{"field":"x1","type":"quantitative","scale":{"domain":[1.16,11.173],"nice":false,"zero":false},"axis":{"orient":"bottom","values":[1.43,2,3,4,5],"labelExpr":"datum.value < 1.5 ? '0' : datum.value == 2 ? '10²' : datum.value == 3 ? '10³' : datum.value == 4 ? '10⁴' : '10⁵'","labelOverlap":false,"domain":false,"tickSize":2,"tickWidth":0.8,"tickColor":"#666","labelFontSize":5,"labelColor":"#555","labelFontWeight":"normal","labelFont":"DejaVu Sans","labelPadding":1,"title":"CD11b","titleFont":"Liberation Sans","titleFontSize":17,"titleFontWeight":"normal","titleX":40,"titleY":31,"titleBaseline":"middle"}},
     "x2":{"field":"x2"},
     "y":{"field":"y1","type":"quantitative","scale":{"domain":[1.11,11.199],"nice":false,"zero":false},"axis":{"orient":"left","values":[1.58,2,3,4,5],"labelExpr":"datum.value < 1.7 ? '0' : datum.value == 2 ? '10²' : datum.value == 3 ? '10³' : datum.value == 4 ? '10⁴' : '10⁵'","labelOverlap":false,"domain":false,"tickSize":2,"tickWidth":0.8,"tickColor":"#666","labelFontSize":5,"labelColor":"#555","labelFontWeight":"normal","labelFont":"DejaVu Sans","labelPadding":1,"title":null}},
     "y2":{"field":"y2"}}},
   {"data":{"name":"gates"},"transform":[{"filter":"datum.p == 'b'"}],"mark":{"type":"rect","fillOpacity":0,"stroke":"#6a6a6a","strokeWidth":1},
    "encoding":{"x":{"field":"x1","type":"quantitative"},"x2":{"field":"x2"},"y":{"field":"y1","type":"quantitative"},"y2":{"field":"y2"}}},
   {"data":{"name":"facs"},"transform":[{"filter":"datum.p == 'b'"}],"mark":{"type":"point","filled":true,"size":4,"color":"#3434d0","opacity":0.9},
    "encoding":{"x":{"field":"x","type":"quantitative"},"y":{"field":"y","type":"quantitative"}}},
   {"data":{"name":"gtext"},"transform":[{"filter":"datum.p == 'b'"}],"mark":{"type":"text","font":"Liberation Sans","fontSize":10,"fontWeight":"bold"},
    "encoding":{"x":{"field":"x","type":"quantitative"},"y":{"field":"y","type":"quantitative"},"text":{"field":"t"}}},
   {"data":{"name":"stext"},"transform":[{"filter":"datum.p == 'b'"}],"mark":{"type":"text","font":"Liberation Sans","fontSize":12,"fontWeight":"bold","align":"left"},
    "encoding":{"x":{"field":"x","type":"quantitative"},"y":{"field":"y","type":"quantitative"},"text":{"field":"t"}}},
   {"data":{"name":"arrE"},"transform":[{"filter":"datum.p == 'b'"}],"mark":{"type":"rule","strokeWidth":4,"color":"black"},
    "encoding":{"x":{"field":"x1","type":"quantitative"},"x2":{"field":"x2"},"y":{"field":"y1","type":"quantitative"},"y2":{"field":"y2"}}},
   {"data":{"name":"headRight"},"mark":{"type":"point","shape":"triangle-right","filled":true,"size":90,"color":"black","opacity":1},
    "encoding":{"x":{"field":"x","type":"quantitative"},"y":{"field":"y","type":"quantitative"}}}
  ]}
 ]
},
{
 "width":150,"height":169,
 "title":{"text":"F","dx":-21,"offset":20},
 "layer":[
  {"data":{"name":"relF"},"mark":{"type":"bar","stroke":"black","strokeWidth":2},
   "encoding":{
    "x":{"field":"id","type":"nominal","scale":{"domain":["WT","KO"],"paddingInner":0.34,"paddingOuter":0.184,"align":0.55},"axis":{"title":null,"labelAngle":-45,"labelExpr":"datum.value == 'WT' ? 'WT➡ WT' : 'C3aR⁻/⁻C5aR⁻/⁻➡ WT'","labelFontSize":11,"tickSize":5}},
    "y":{"field":"v","type":"quantitative","scale":{"domain":[0,4.05],"nice":false},"axis":{"values":[0,1,2,3,4],"tickCount":20,"format":"d","title":"% CFSE⁺ CD11c⁺ MHCII⁺ LNDC","titleFontSize":10,"titleX":-21,"titleBaseline":"middle","labelFontSize":12}},
    "fill":{"field":"id","type":"nominal","scale":{"domain":["WT","KO"],"range":["white","#a6a6a6"]},"legend":null}}},
  {"data":{"name":"relF"},"mark":{"type":"rule","strokeWidth":2,"color":"black"},
   "encoding":{"x":{"field":"id","type":"nominal","scale":{"domain":["WT","KO"]}},"y":{"field":"lo","type":"quantitative","scale":{"domain":[0,4.05],"nice":false}},"y2":{"field":"hi"}}},
  {"data":{"name":"relF"},"mark":{"type":"tick","thickness":2,"size":28,"color":"black"},
   "encoding":{"x":{"field":"id","type":"nominal","scale":{"domain":["WT","KO"]}},"y":{"field":"lo","type":"quantitative","scale":{"domain":[0,4.05],"nice":false}}}},
  {"data":{"name":"relF"},"mark":{"type":"tick","thickness":2,"size":28,"color":"black"},
   "encoding":{"x":{"field":"id","type":"nominal","scale":{"domain":["WT","KO"]}},"y":{"field":"hi","type":"quantitative","scale":{"domain":[0,4.05],"nice":false}}}},
  {"data":{"name":"sigF"},"mark":{"type":"rule","strokeWidth":1.2,"color":"#222"},
   "encoding":{"x":{"field":"x1","type":"nominal","scale":{"domain":["WT","KO"]}},"x2":{"field":"x2"},"y":{"field":"y","type":"quantitative","scale":{"domain":[0,4.05],"nice":false}}}},
  {"data":{"name":"legF"},"mark":{"type":"rule","strokeWidth":1.2,"color":"#222"},
   "encoding":{"x":{"field":"id","type":"nominal","scale":{"domain":["WT","KO"]}},"y":{"field":"top","type":"quantitative","scale":{"domain":[0,4.05],"nice":false}},"y2":{"field":"bot"}}},
  {"data":{"name":"sigF"},"mark":{"type":"text","fontSize":11,"baseline":"bottom","dy":1,"dx":37},
   "encoding":{"x":{"field":"x1","type":"nominal","scale":{"domain":["WT","KO"]}},"y":{"field":"y","type":"quantitative","scale":{"domain":[0,4.05],"nice":false}},"text":{"field":"p"}}}
 ]
},
{
 "width":171,"height":167,
 "title":{"text":"G","dx":-30,"offset":34},
 "layer":[
  {"data":{"name":"relG"},"mark":{"type":"bar","stroke":"black","strokeWidth":2},
   "encoding":{
    "x":{"field":"grp","type":"nominal","scale":{"domain":["CD103⁺DC","CD11b⁺DC"],"paddingInner":0.436,"paddingOuter":0.064,"align":0.62},"axis":{"title":null,"labelAngle":-45,"labelFontSize":10}},
    "xOffset":{"field":"geno","type":"nominal","scale":{"domain":["WT","KO"],"paddingInner":0.32,"paddingOuter":0}},
    "y":{"field":"v","type":"quantitative","scale":{"domain":[0,150],"nice":false},"axis":{"values":[0,50,100,150],"tickCount":20,"format":"d","title":"No of CFSE⁺ CD11c⁺ MHCII⁺ in dLN","titleFontSize":9.5,"titleX":-37,"titleBaseline":"middle","labelFontSize":11}},
    "fill":{"field":"geno","type":"nominal","scale":{"domain":["WT","KO"],"range":["white","#a6a6a6"]},
      "legend":{"orient":"none","legendX":105,"legendY":6,"padding":0,"title":null,"symbolType":"square","symbolSize":120,"symbolStrokeColor":"black","symbolStrokeWidth":2,"labelFont":"Lato","labelFontSize":10.5,"labelFontWeight":"bold","labelColor":"black","rowPadding":-3,"labelExpr":"datum.value == 'WT' ? 'WT ➡ WT' : 'C3aR⁻/⁻ C5aR⁻/⁻➡ WT'"}}}},
  {"data":{"name":"relG"},"mark":{"type":"rule","strokeWidth":2,"color":"black"},
   "encoding":{"x":{"field":"grp","type":"nominal","scale":{"domain":["CD103⁺DC","CD11b⁺DC"]}},"xOffset":{"field":"geno","type":"nominal","scale":{"domain":["WT","KO"]}},"y":{"field":"lo","type":"quantitative","scale":{"domain":[0,150],"nice":false}},"y2":{"field":"hi"}}},
  {"data":{"name":"relG"},"mark":{"type":"tick","thickness":2,"size":20,"color":"black"},
   "encoding":{"x":{"field":"grp","type":"nominal","scale":{"domain":["CD103⁺DC","CD11b⁺DC"]}},"xOffset":{"field":"geno","type":"nominal","scale":{"domain":["WT","KO"]}},"y":{"field":"lo","type":"quantitative","scale":{"domain":[0,150],"nice":false}}}},
  {"data":{"name":"relG"},"mark":{"type":"tick","thickness":2,"size":20,"color":"black"},
   "encoding":{"x":{"field":"grp","type":"nominal","scale":{"domain":["CD103⁺DC","CD11b⁺DC"]}},"xOffset":{"field":"geno","type":"nominal","scale":{"domain":["WT","KO"]}},"y":{"field":"hi","type":"quantitative","scale":{"domain":[0,150],"nice":false}}}},
  {"data":{"name":"sigG"},"mark":{"type":"tick","thickness":2,"size":35,"color":"black"},
   "encoding":{"x":{"field":"grp","type":"nominal","scale":{"domain":["CD103⁺DC","CD11b⁺DC"]}},"y":{"field":"y","type":"quantitative","scale":{"domain":[0,150],"nice":false}}}},
  {"data":{"name":"capG"},"mark":{"type":"tick","orient":"vertical","thickness":2,"size":8,"color":"black"},
   "encoding":{"x":{"field":"grp","type":"nominal","scale":{"domain":["CD103⁺DC","CD11b⁺DC"]}},"xOffset":{"field":"geno","type":"nominal","scale":{"domain":["WT","KO"]}},"y":{"field":"y","type":"quantitative","scale":{"domain":[0,150],"nice":false}}}},
  {"data":{"name":"sigG"},"mark":{"type":"text","fontSize":11,"baseline":"bottom","dy":2},
   "encoding":{"x":{"field":"grp","type":"nominal","scale":{"domain":["CD103⁺DC","CD11b⁺DC"]}},"y":{"field":"y","type":"quantitative","scale":{"domain":[0,150],"nice":false}},"text":{"field":"p"}}}
 ]
}
]
}
